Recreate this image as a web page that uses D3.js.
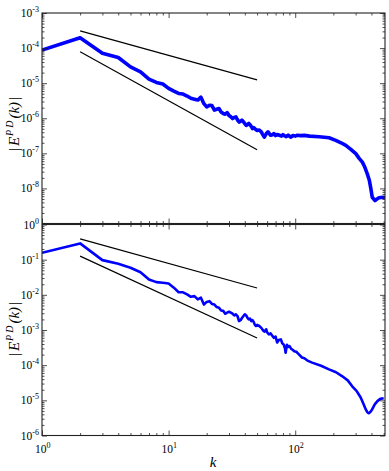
<!DOCTYPE html>
<html><head><meta charset="utf-8">
<script src="https://cdn.jsdelivr.net/npm/d3@7"></script>
<style>
body{margin:0;background:#fff}
svg{display:block}
text{font-family:"Liberation Serif","DejaVu Serif",serif;fill:#000}
</style>
</head><body>
<svg id="c" width="389" height="471"></svg>
<script>
// ---- data ----
const kTop = [1,2,3,4,5,6,7,8,9,10,11,12,13,14,15,16,17,18,19,20,21,22,23,24,25,26,27,28,29,30,31,32,33,34,35,36,37,38,39,40,41,42,43,44,45,46,47,48,50,52,54,55,57,59,61,63,64,66,68,70,72,75,78,80,82,85,88,92,96,100,104,110,118,130,155,185,209,230,251,275,301,320,339,355,371,385,394,406,427,440,459,493,512];
const eTop = [8.8e-5,1.97e-4,7.1e-5,5.4e-5,2.9e-5,2.1e-5,1.3e-5,1.05e-5,9.5e-6,7.1e-6,5.9e-6,5.1e-6,4.9e-6,4.3e-6,3.7e-6,3.5e-6,3.3e-6,4.0e-6,2.6e-6,2.1e-6,2.35e-6,2.3e-6,1.7e-6,1.8e-6,1.9e-6,1.5e-6,1.36e-6,1.3e-6,1.45e-6,1.2e-6,1.1e-6,9.8e-7,1.05e-6,1.09e-6,9e-7,7.8e-7,8.2e-7,8.8e-7,8.0e-7,7.0e-7,6.3e-7,6.6e-7,7.1e-7,6.5e-7,5.8e-7,5.1e-7,5.4e-7,5.0e-7,4.5e-7,4.6e-7,4.1e-7,3.6e-7,2.9e-7,3.6e-7,4.1e-7,3.5e-7,3.27e-7,3.4e-7,3.65e-7,3.2e-7,3.45e-7,3.27e-7,3.1e-7,3.4e-7,3.2e-7,3.0e-7,3.3e-7,2.9e-7,3.2e-7,3.1e-7,3.27e-7,3.2e-7,3.25e-7,3.1e-7,2.98e-7,2.77e-7,2.35e-7,2.0e-7,1.69e-7,1.3e-7,9.8e-8,7.2e-8,5.6e-8,4.0e-8,2.6e-8,1.7e-8,1.09e-8,5.6e-9,4.5e-9,4.9e-9,5.4e-9,5.6e-9,5.5e-9];

const kBot = [1,2,3,4,5,6,7,8,9,10,11,12,13,14,15,16,17,18,19,20,21,22,23,24,25,26,27,28,29,30,31,32,33,34,35,36,37,38,39,40,41,42,43,44,45,46,47,48,49,50,52,54,56,57,59,60,62,64,66,68,70,72,74,77,79,81,83,84,86,88,90,93,96,98,102,107,113,118,125,136,160,185,210,234,260,282,305,329,345,361,371,381,393,405,425,446,470,500];
const eBot = [0.157,0.29,0.097,0.076,0.059,0.044,0.0274,0.023,0.022,0.021,0.016,0.0118,0.0118,0.0103,0.0088,0.0092,0.0074,0.0083,0.0053,0.0063,0.0066,0.0055,0.0053,0.0045,0.0043,0.0036,0.0035,0.0029,0.0031,0.0033,0.0031,0.0029,0.0026,0.0028,0.0025,0.0018,0.0019,0.0022,0.0025,0.0028,0.0026,0.0022,0.0020,0.0021,0.0018,0.0019,0.0017,0.0014,0.0013,0.0014,0.0013,0.00115,0.00095,0.0009,0.00105,0.00085,0.00075,0.0008,0.00068,0.0006,0.00065,0.00044,0.00052,0.00054,0.00042,0.00039,0.00030,0.000226,0.00038,0.00033,0.00035,0.00029,0.00027,0.00025,0.00024,0.000203,0.000165,0.000158,0.000135,0.000118,9.6e-5,7.6e-5,6.3e-5,4.9e-5,3.7e-5,2.5e-5,1.86e-5,1.2e-5,8.1e-6,5.5e-6,4.6e-6,4.3e-6,4.7e-6,5.5e-6,7.7e-6,9.5e-6,1.1e-5,1.14e-5];

// reference power-law lines (endpoints at k=2 and k=50)
const refK = [2, 50];
const topRefA = [3.1e-4, 1.24e-5];   // ~k^-1
const topRefB = [7.85e-5, 1.26e-7];  // ~k^-2
const botRefA = [0.39, 0.0156];      // ~k^-1
const botRefB = [0.126, 5.9e-4];     // ~k^-5/3

const xDomain = [1, 512];
const xTickExp = [0, 1, 2];
const topYDomain = [1e-9, 1e-3];
const topYTickExp = [-8, -7, -6, -5, -4, -3];
const botYDomain = [1e-6, 1];
const botYTickExp = [-6, -5, -4, -3, -2, -1, 0];

// ---- drawing ----
const svg = d3.select("#c");
const L = 42, R = 385;
const x = d3.scaleLog().domain(xDomain).range([L, R]);

function minorTicks(dom) {
  const out = [];
  const lo = Math.floor(Math.log10(dom[0])), hi = Math.ceil(Math.log10(dom[1]));
  for (let e = lo; e < hi; e++) for (let m = 2; m <= 9; m++) {
    const v = m * Math.pow(10, e);
    if (v > dom[0] && v < dom[1]) out.push(v);
  }
  return out;
}
const majX = xTickExp.map(e => Math.pow(10, e));

function supLabel(sel, exp) {
  sel.append("tspan").text("10");
  sel.append("tspan").attr("font-size", 8).attr("dy", -5).text(exp);
}

function panel(id, top, bottom, yDom, yExp, ks, es, refs, lw, labelY) {
  const y = d3.scaleLog().domain(yDom).range([bottom, top]);
  const g = svg.append("g");
  const clipId = "clip" + id;
  svg.append("clipPath").attr("id", clipId).append("rect")
    .attr("x", L).attr("y", top).attr("width", R - L).attr("height", bottom - top);

  const line = d3.line().x(d => x(d[0])).y(d => y(d[1]));
  const pg = g.append("g").attr("clip-path", `url(#${clipId})`);
  refs.forEach(r => {
    pg.append("path").datum(refK.map((k, i) => [k, r[i]]))
      .attr("d", line).attr("fill", "none").attr("stroke", "#000").attr("stroke-width", 1.2);
  });
  pg.append("path").datum(ks.map((k, i) => [k, es[i]]))
    .attr("d", line).attr("fill", "none").attr("stroke", "#0000ff")
    .attr("stroke-width", lw).attr("stroke-linejoin", "round");

  const majY = yExp.map(e => Math.pow(10, e)).filter(v => v >= yDom[0] && v <= yDom[1]);
  const allMajY = d3.range(Math.round(Math.log10(yDom[0])), Math.round(Math.log10(yDom[1])) + 1).map(e => Math.pow(10, e));
  const mk = (axisFn, scale, vals, size, tx, ty) => {
    const a = g.append("g").attr("transform", `translate(${tx},${ty})`)
      .call(axisFn(scale).tickValues(vals).tickSize(size).tickFormat(""));
    a.select(".domain").remove();
    a.selectAll("line").attr("stroke", "#222").attr("stroke-width", 0.8);
    return a;
  };
  const minX = minorTicks(xDomain), minY = minorTicks(yDom);
  mk(d3.axisBottom, x, majX, -5, 0, bottom);
  mk(d3.axisBottom, x, minX, -2.5, 0, bottom);
  mk(d3.axisTop, x, majX, -5, 0, top);
  mk(d3.axisTop, x, minX, -2.5, 0, top);
  mk(d3.axisLeft, y, allMajY, -5, L, 0);
  mk(d3.axisLeft, y, minY, -2.5, L, 0);
  mk(d3.axisRight, y, allMajY, -5, R, 0);
  mk(d3.axisRight, y, minY, -2.5, R, 0);

  g.append("rect").attr("x", L).attr("y", top).attr("width", R - L).attr("height", bottom - top)
    .attr("fill", "none").attr("stroke", "#222").attr("stroke-width", 1.1);

  majY.forEach(v => {
    const e = Math.round(Math.log10(v));
    const t = g.append("text").attr("x", 39).attr("y", y(v) + 4)
      .attr("text-anchor", "end").attr("font-size", 11.5);
    supLabel(t, e);
  });

  const lab = g.append("text").attr("transform", `translate(19,${labelY}) rotate(-90)`)
    .attr("text-anchor", "middle").attr("font-size", 15).attr("font-style", "italic");
  lab.append("tspan").attr("font-style", "normal").text("|");
  lab.append("tspan").attr("dx", 2).text("E");
  lab.append("tspan").attr("font-size", 10).attr("dy", -6).attr("dx", 1).attr("letter-spacing", 2).text("PD");
  lab.append("tspan").attr("dy", 6).text("(k)");
  lab.append("tspan").attr("dx", 2).attr("font-style", "normal").text("|");
  return y;
}

panel("t", 13, 223.5, topYDomain, topYTickExp, kTop, eTop, [topRefA, topRefB], 3.6, 124);
panel("b", 224.5, 435.5, botYDomain, botYTickExp, kBot, eBot, [botRefA, botRefB], 2.6, 329);

majX.forEach((v, i) => {
  const t = svg.append("text").attr("x", x(v) - 7).attr("y", 453)
    .attr("text-anchor", "start").attr("font-size", 11.5);
  supLabel(t, xTickExp[i]);
});
svg.append("text").attr("x", 213).attr("y", 467).attr("text-anchor", "middle")
  .attr("font-size", 15).attr("font-style", "italic").text("k");
</script>
</body></html>
